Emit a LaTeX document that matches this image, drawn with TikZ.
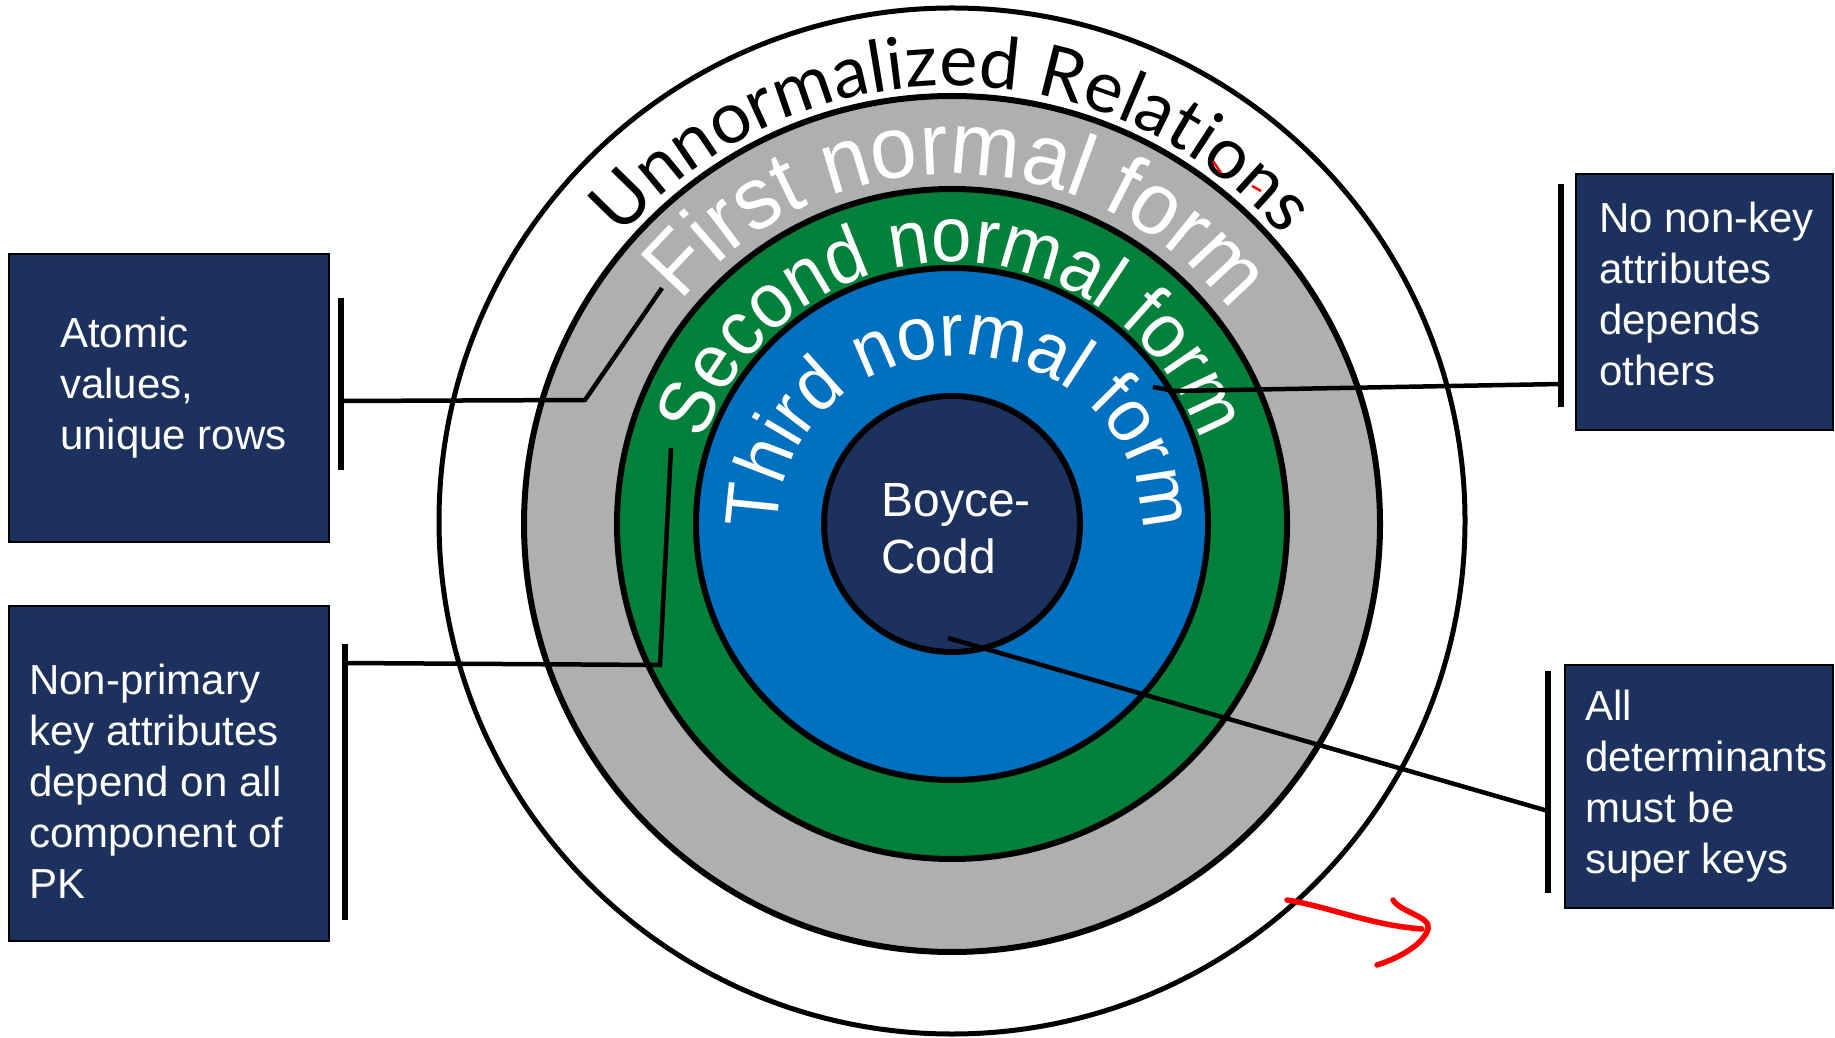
\documentclass[tikz,border=0pt]{standalone}
\usepackage{fontspec}
\setmainfont{Liberation Sans}
\newfontfamily\archfont{Lato}
\newfontfamily\firstfont[FakeStretch=0.95]{Liberation Sans}
\newfontfamily\secondfont[FakeStretch=0.93]{Liberation Sans}
\newfontfamily\thirdfont[FakeStretch=0.95]{Liberation Sans}
\usetikzlibrary{decorations.text}
\definecolor{ringgray}{RGB}{175,175,175}
\definecolor{ringgreen}{RGB}{3,129,58}
\definecolor{ringblue}{RGB}{0,112,192}
\definecolor{navy}{RGB}{29,49,94}
\definecolor{penred}{RGB}{255,0,0}
\begin{document}
\begin{tikzpicture}[x=1pt,y=1pt,
  ring/.style={circle, draw=black, line width=6pt, inner sep=0pt},
  infobox/.style={draw=black, line width=2pt, fill=navy, inner sep=0pt},
  boxtext/.style={text=white, align=left, font=\fontsize{42}{51}\selectfont, inner sep=0pt, anchor=west},
  bar/.style={line width=5.5pt},
  leader/.style={line width=4.5pt},
  redpen/.style={draw=penred, line width=5.5pt, line cap=round, line join=round},
  arch/.style={decorate, decoration={text along path, text align=center, #1}},
]
\useasboundingbox (0,0) rectangle (1835,1037);
\fill[white] (0,0) rectangle (1835,1037);

% nested normal-form rings
\coordinate (C) at (952,513);
\coordinate (C3) at (960,513);
\node[ring, line width=5pt, minimum size=1026pt] (unf) at (952,516) {};
\node[ring, fill=ringgray, minimum size=856pt] (nf1) at (C) {};
\node[ring, fill=ringgreen, minimum size=670pt] (nf2) at (C) {};
\node[ring, fill=ringblue, minimum size=512pt] (nf3) at (C) {};
\node[ring, fill=navy, minimum size=256pt] (bcnf) at (C) {};
\node[text=white, align=left, font=\fontsize{48}{57}\selectfont, inner sep=0pt]
  (bctext) at ([xshift=4pt,yshift=-5pt]bcnf.center) {Boyce-\\Codd};

% ring titles set along arcs
\path[arch={text={|\archfont\fontsize{72}{72}\selectfont|Unnormalized Relations}}]
  ([shift={(200:438pt)}]C) arc[start angle=200, end angle=-20, radius=438pt];
\path[arch={text color=white, text={|\firstfont\fontsize{88}{88}\selectfont|First normal form}}]
  ([shift={(199:350pt)}]C) arc[start angle=199, end angle=-21, radius=350pt];
\path[arch={text color=white, text={|\secondfont\fontsize{78}{78}\selectfont|Second normal form}}]
  ([shift={(200:262pt)}]C) arc[start angle=200, end angle=-20, radius=262pt];
\path[arch={text color=white, text={|\thirdfont\fontsize{75}{75}\selectfont|Third normal form}}]
  ([shift={(200:182pt and 168pt)}]C3) arc[start angle=200, end angle=-20, x radius=182pt, y radius=168pt];

% spell-check marks
\draw[draw=penred, line width=2.5pt] (1213,876) -- (1221,864);
\draw[draw=penred, line width=2.5pt] (1252,851) -- (1261,846);

% description boxes
\node[infobox, minimum width=320pt, minimum height=288pt] (box1) at (169,639) {};
\node[boxtext] (t1) at (60,649) {Atomic\\values,\\unique rows};
\node[infobox, minimum width=320pt, minimum height=335pt] (box2) at (169,263.5) {};
\node[boxtext] (t2) at (29,255.5) {Non-primary\\key attributes\\depend on all\\component of\\PK};
\node[infobox, minimum width=257pt, minimum height=256pt] (box3) at (1704.5,735) {};
\node[boxtext] (t3) at (1599,743.5) {No non-key\\attributes\\depends\\others};
\node[infobox, minimum width=268pt, minimum height=243pt] (box4) at (1699,250.5) {};
\node[boxtext] (t4) at (1585,250.5) {All\\determinants\\must be\\super keys};

% brackets and leaders
\coordinate (b1a) at (341,739); \coordinate (b1b) at (341,567);
\coordinate (l1s) at (341,636); \coordinate (l1k) at (585,637); \coordinate (l1e) at (662,749);
\draw[bar] (b1a) -- (b1b);
\draw[leader] (l1s) -- (l1k) -- (l1e);

\coordinate (b2a) at (345,393); \coordinate (b2b) at (345,117);
\coordinate (l2s) at (345,374); \coordinate (l2k) at (660,372); \coordinate (l2e) at (671,589);
\draw[bar] (b2a) -- (b2b);
\draw[leader] (l2s) -- (l2k) -- (l2e);

\coordinate (b3a) at (1561,853); \coordinate (b3b) at (1561,630);
\coordinate (l3s) at (1561,653); \coordinate (l3k) at (1175,646); \coordinate (l3e) at (1153,650);
\draw[bar] (b3a) -- (b3b);
\draw[leader] (l3s) -- (l3k) -- (l3e);

\coordinate (b4a) at (1548,366); \coordinate (b4b) at (1548,144);
\coordinate (l4s) at (1548,226); \coordinate (l4e) at (948,399);
\draw[bar] (b4a) -- (b4b);
\draw[leader] (l4s) -- (l4e);

% hand-drawn red arrow
\coordinate (r1) at (1287,137); \coordinate (r2) at (1422,108);
\coordinate (h1) at (1393,137); \coordinate (h2) at (1428,108); \coordinate (h3) at (1377,72);
\draw[redpen] (r1) .. controls (1330,130) and (1370,112) .. (r2);
\draw[redpen] (h1) .. controls (1400,125) and (1432,120) .. (h2)
  .. controls (1424,94) and (1402,80) .. (h3);
\end{tikzpicture}
\end{document}
